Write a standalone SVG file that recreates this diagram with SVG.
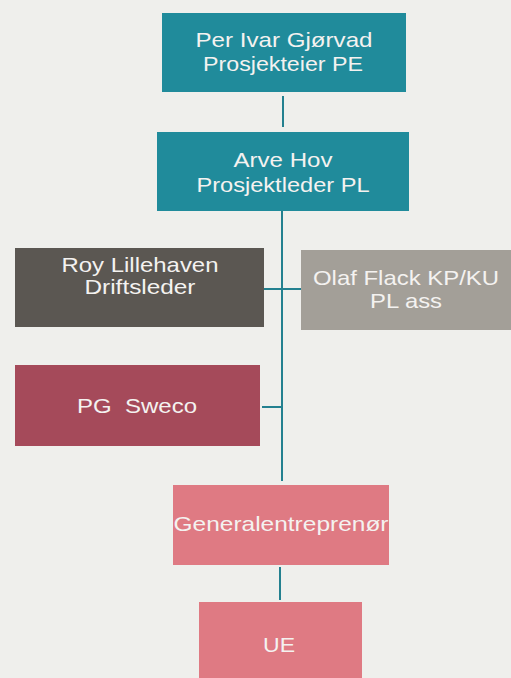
<svg xmlns="http://www.w3.org/2000/svg" width="511" height="678" viewBox="0 0 511 678">
<style>
.t{font-family:"Liberation Sans",Arial,sans-serif;font-size:21px;fill:#f4f2f0;text-anchor:middle}
.c{stroke:#23808f;stroke-width:2;fill:none}
</style>
<rect width="511" height="678" fill="#efefec"/>
<g id="connectors">
<line class="c" x1="283" y1="96" x2="283" y2="127"/>
<line class="c" x1="282" y1="211" x2="282" y2="481"/>
<line class="c" x1="264" y1="289" x2="301" y2="289"/>
<line class="c" x1="262" y1="407" x2="282" y2="407"/>
<line class="c" x1="280" y1="567" x2="280" y2="600"/>
</g>
<g id="n1">
<rect x="162" y="13" width="244" height="79" fill="#208b9b"/>
<text class="t" x="284" y="47" textLength="177" lengthAdjust="spacingAndGlyphs">Per Ivar Gjørvad</text>
<text class="t" x="283" y="71" textLength="160" lengthAdjust="spacingAndGlyphs">Prosjekteier PE</text>
</g>
<g id="n2">
<rect x="157" y="132" width="252" height="79" fill="#208b9b"/>
<text class="t" x="283" y="167" textLength="99" lengthAdjust="spacingAndGlyphs">Arve Hov</text>
<text class="t" x="283" y="192" textLength="173" lengthAdjust="spacingAndGlyphs">Prosjektleder PL</text>
</g>
<g id="n3">
<rect x="15" y="248" width="249" height="79" fill="#5b5752"/>
<text class="t" x="140" y="272" textLength="157" lengthAdjust="spacingAndGlyphs">Roy Lillehaven</text>
<text class="t" x="140" y="294" textLength="111" lengthAdjust="spacingAndGlyphs">Driftsleder</text>
</g>
<g id="n4">
<rect x="301" y="250" width="210" height="80" fill="#a39f98"/>
<text class="t" x="406" y="285" textLength="186" lengthAdjust="spacingAndGlyphs">Olaf Flack KP/KU</text>
<text class="t" x="406" y="308" textLength="72" lengthAdjust="spacingAndGlyphs">PL ass</text>
</g>
<g id="n5">
<rect x="15" y="365" width="245" height="81" fill="#a54a5a"/>
<text class="t" x="137" y="413" textLength="120" lengthAdjust="spacingAndGlyphs" xml:space="preserve">PG  Sweco</text>
</g>
<g id="n6">
<rect x="173" y="485" width="216" height="80" fill="#df7a83"/>
<text class="t" x="281" y="531" textLength="215" lengthAdjust="spacingAndGlyphs">Generalentreprenør</text>
</g>
<g id="n7">
<rect x="199" y="602" width="163" height="76" fill="#df7a83"/>
<text class="t" x="279" y="652" textLength="32" lengthAdjust="spacingAndGlyphs">UE</text>
</g>
</svg>
